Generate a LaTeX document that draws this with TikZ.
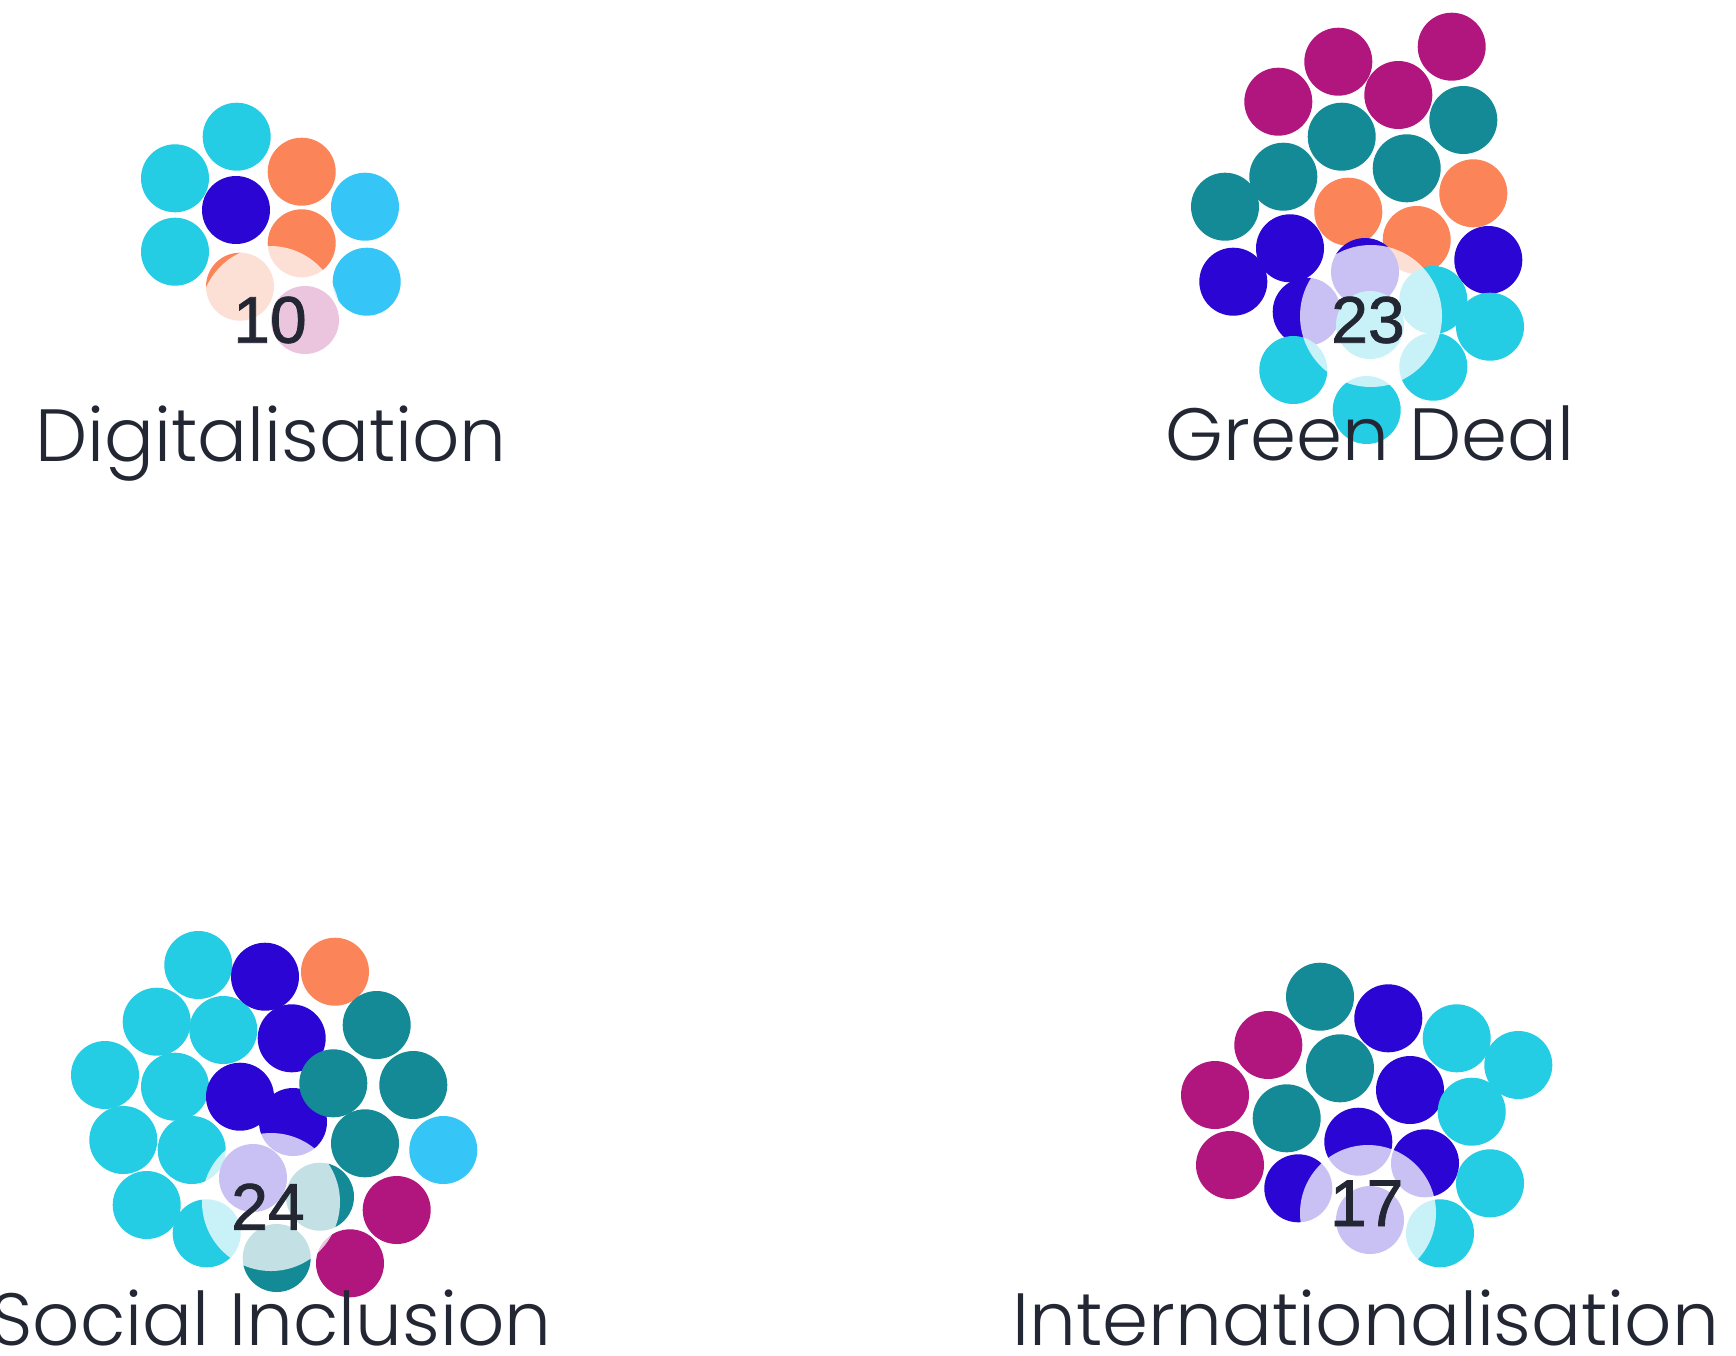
\documentclass[tikz,border=0pt]{standalone}
\usepackage{fontspec}
\setmainfont{Poppins}[UprightFont=* Light]
\newfontfamily\numfont{Liberation Sans}[FakeBold=1.2]
\definecolor{ccyan}{HTML}{24CCE4}
\definecolor{csky}{HTML}{35C6F7}
\definecolor{cdark}{HTML}{2B05D3}
\definecolor{corange}{HTML}{FB8458}
\definecolor{cteal}{HTML}{138A95}
\definecolor{cmag}{HTML}{B0167E}
\definecolor{ctext}{HTML}{232733}
\tikzset{
  dot/.style={fill=#1, draw=none},
  veil/.style={fill=white, fill opacity=0.75, draw=none},
  count/.style={font=\numfont\fontsize{66}{66}\selectfont, text=ctext, inner sep=0pt},
  cat/.style={font=\fontsize{74}{74}\selectfont, text=ctext, anchor=base, inner sep=0pt}
}
\newcommand{\bubbles}[2]{\foreach \p in {#2} {\fill[dot=#1] \p circle[radius=34pt];}}
\begin{document}
\begin{tikzpicture}[x=1pt,y=-1pt]
\useasboundingbox (0,0) rectangle (1736,1355);
\fill[white] (0,0) rectangle (1736,1355);
% ---------- Digitalisation ----------
\bubbles{ccyan}{(236.7,136.7),(175,178.3),(175,251.7)}
\bubbles{corange}{(301.7,171.7),(301.7,243.3)}
\bubbles{cdark}{(236,210)}
\bubbles{csky}{(365,206.7),(366.7,281.7)}
\bubbles{corange}{(240,286.7)}
\bubbles{cmag}{(305,320)}
\fill[veil] (270,316) circle[radius=70pt];
\node[count] (n10) at (270,320) {10};
\node[cat] (dig) at (271,461) {Digitalisation};
% ---------- Green Deal ----------
\bubbles{cmag}{(1451.7,46.7),(1338.3,61.7),(1278.3,101.7),(1398.3,95)}
\bubbles{cteal}{(1463.3,120),(1341.7,136.7),(1283.3,176.7),(1406.7,168.3),(1225,206.7)}
\bubbles{corange}{(1473.3,193.3),(1348.3,211.7),(1416.7,240)}
\bubbles{cdark}{(1233.3,281.7),(1290,248.3),(1488.3,260),(1306.7,311.7),(1365,272)}
\bubbles{ccyan}{(1490,326.7),(1433.3,300),(1293.3,370),(1433.3,366.7),(1366.7,410),(1370,325)}
\fill[veil] (1371,316) circle[radius=71pt];
\node[count] (n23) at (1368,320) {23};
\node[cat] (green) at (1370,460) {Green Deal};
% ---------- Social Inclusion ----------
\bubbles{ccyan}{(198.3,965),(156.7,1021.7),(223.3,1030),(105,1075),(175,1086.7),(123.3,1140),(191.7,1150),(146.7,1205),(206.7,1233.3)}
\bubbles{cdark}{(265,976.7),(291.7,1038.3),(240,1096.7),(293,1122),(253,1178)}
\bubbles{corange}{(335,971.7)}
\bubbles{cteal}{(376.7,1025),(333.3,1083.3),(413.3,1085),(365,1143.3),(320,1196.7),(276.7,1258)}
\bubbles{csky}{(443.3,1150)}
\bubbles{cmag}{(396.7,1210),(350,1263.3)}
\fill[veil] (271,1202) circle[radius=69pt];
\node[count] (n24) at (268,1206.7) {24};
\node[cat] (social) at (271,1345) {Social Inclusion};
% ---------- Internationalisation ----------
\bubbles{cteal}{(1320,996.7),(1340,1068.3),(1286.7,1118.3)}
\bubbles{cdark}{(1388.3,1018.3),(1410,1090),(1358.3,1141.7),(1425,1163.3),(1298.3,1188.3),(1370,1220)}
\bubbles{cmag}{(1268.3,1045),(1215,1095),(1230,1165)}
\bubbles{ccyan}{(1456.7,1038.3),(1518.3,1065),(1471.7,1111.7),(1490,1183.3),(1440,1233.3)}
\fill[veil] (1368,1213) circle[radius=68pt];
\node[count] (n17) at (1366.7,1203.3) {17};
\node[cat] (intl) at (1366,1345) {Internationalisation};
\end{tikzpicture}
\end{document}
